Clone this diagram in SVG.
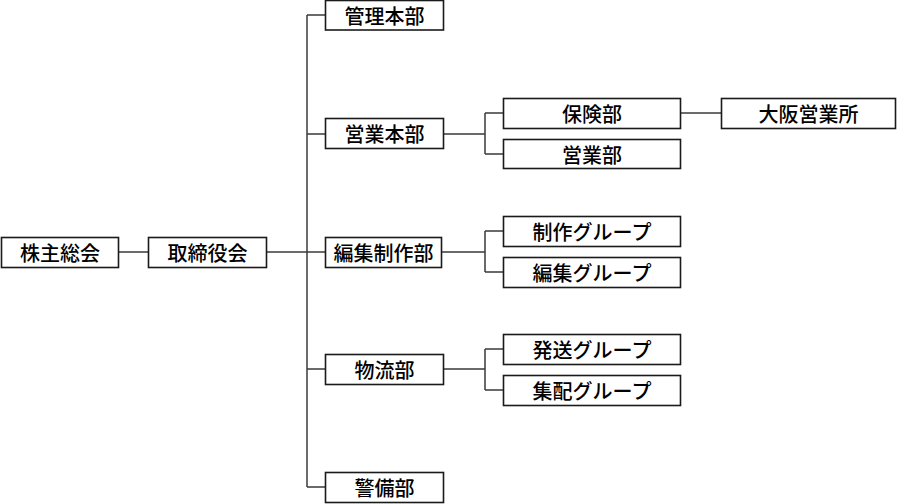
<svg xmlns="http://www.w3.org/2000/svg" width="900" height="504" viewBox="0 0 900 504">
<style>
.box{fill:#fff;stroke:#1a1a1a;stroke-width:1.6}
.lbl{font-family:"Noto Sans CJK JP","Noto Sans",sans-serif;font-size:20px;font-weight:500;fill:#000;text-anchor:middle;dominant-baseline:central}
.con{fill:none;stroke:#3a3a3a;stroke-width:1.5}
</style>
<rect width="900" height="504" fill="#fff"/>
<g id="connectors">
<path class="con" d="M119,252H148"/>
<path class="con" d="M267,252H325"/>
<path class="con" d="M307,15V487"/>
<path class="con" d="M307,15H325M307,134H325M307,369H325M307,487H325"/>
<path class="con" d="M444,134H485M485,113V154M485,113H503M485,154H503"/>
<path class="con" d="M680,113H721"/>
<path class="con" d="M442,252H485M485,231V272M485,231H503M485,272H503"/>
<path class="con" d="M444,369H485M485,349V390M485,349H503M485,390H503"/>
</g>
<g id="n-kabunushi"><rect class="box" x="1.5" y="237.5" width="117" height="30"/><text class="lbl" x="60" y="252.5">株主総会</text></g>
<g id="n-torishimari"><rect class="box" x="148.5" y="237.5" width="118" height="30"/><text class="lbl" x="207.5" y="252.5">取締役会</text></g>
<g id="n-kanri"><rect class="box" x="325.5" y="0.5" width="118" height="29.5"/><text class="lbl" x="384.5" y="15">管理本部</text></g>
<g id="n-eigyohonbu"><rect class="box" x="325.5" y="118.5" width="118" height="30"/><text class="lbl" x="384.5" y="133.5">営業本部</text></g>
<g id="n-henshuseisaku"><rect class="box" x="325.5" y="237.5" width="116" height="30"/><text class="lbl" x="383.5" y="252.5">編集制作部</text></g>
<g id="n-butsuryu"><rect class="box" x="325.5" y="354.5" width="118" height="30"/><text class="lbl" x="384.5" y="369.5">物流部</text></g>
<g id="n-keibi"><rect class="box" x="325.5" y="472.5" width="118" height="30"/><text class="lbl" x="384.5" y="487.5">警備部</text></g>
<g id="n-hoken"><rect class="box" x="503.5" y="98.5" width="177" height="30"/><text class="lbl" x="592" y="113.5">保険部</text></g>
<g id="n-eigyobu"><rect class="box" x="503.5" y="139.5" width="177" height="29"/><text class="lbl" x="592" y="154">営業部</text></g>
<g id="n-osaka"><rect class="box" x="721.5" y="98.5" width="174" height="30"/><text class="lbl" x="808.5" y="113.5">大阪営業所</text></g>
<g id="n-seisaku"><rect class="box" x="503.5" y="216.5" width="177" height="30"/><text class="lbl" x="592" y="231.5">制作グループ</text></g>
<g id="n-henshu"><rect class="box" x="503.5" y="257.5" width="177" height="30"/><text class="lbl" x="592" y="272.5">編集グループ</text></g>
<g id="n-hasso"><rect class="box" x="503.5" y="334.5" width="177" height="30"/><text class="lbl" x="592" y="349.5">発送グループ</text></g>
<g id="n-shuhai"><rect class="box" x="503.5" y="375.5" width="177" height="30"/><text class="lbl" x="592" y="390.5">集配グループ</text></g>
</svg>
